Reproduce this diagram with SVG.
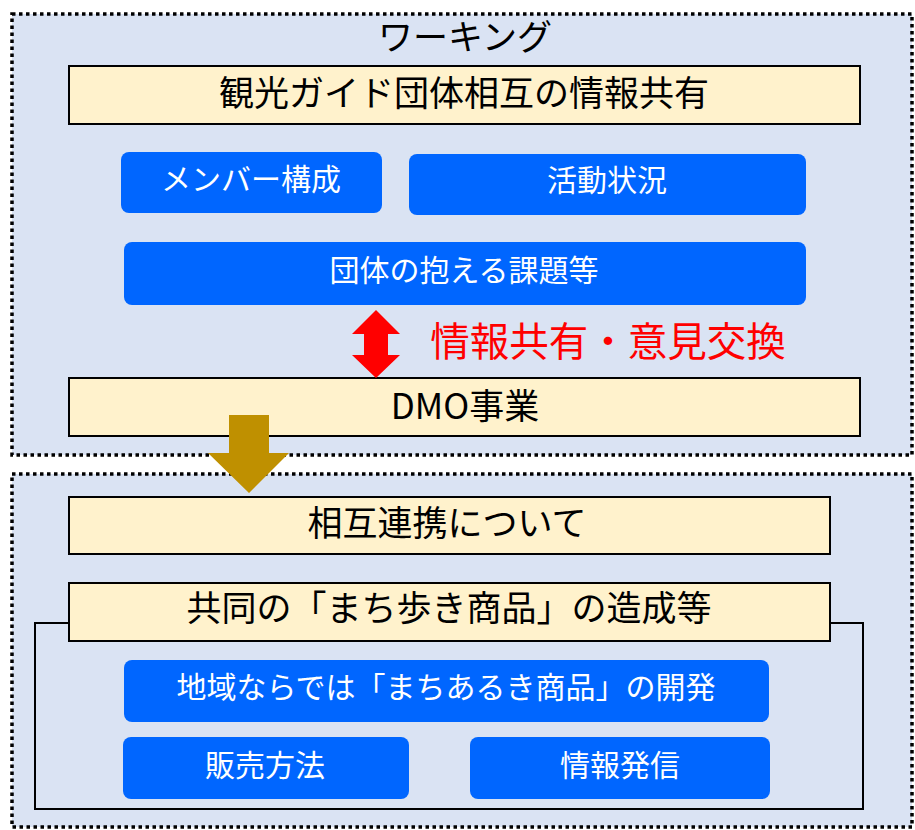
<svg xmlns="http://www.w3.org/2000/svg" width="915" height="830" viewBox="0 0 915 830">
<style>
.cont{fill:#DAE3F3;stroke:#000;stroke-width:3.5;stroke-dasharray:3.5 3.5}
.beige{fill:#FFF2CC;stroke:#000;stroke-width:2}
.blue{fill:#0066FF}
.t{font-family:"Noto Sans CJK JP","Noto Sans",sans-serif;text-anchor:middle;dominant-baseline:central}
.bk{fill:#000;font-size:35px}
.wh{fill:#fff;font-size:30px}
</style>
<rect width="915" height="830" fill="#fff"/>
<g id="working">
<rect class="cont" x="12" y="14" width="900" height="441"/>
<text class="t bk" x="465" y="34">ワーキング</text>
</g>
<g id="lower">
<rect class="cont" x="12" y="474" width="900" height="353"/>
</g>
<g id="share">
<rect class="beige" x="69" y="66" width="791" height="58"/>
<text class="t bk" x="464" y="90">観光ガイド団体相互の情報共有</text>
</g>
<g id="member">
<rect class="blue" x="121" y="152" width="261" height="61" rx="8"/>
<text class="t wh" x="251" y="177">メンバー構成</text>
</g>
<g id="activity">
<rect class="blue" x="409" y="154" width="397" height="61" rx="8"/>
<text class="t wh" x="607" y="178">活動状況</text>
</g>
<g id="issues">
<rect class="blue" x="124" y="242" width="682" height="63" rx="8"/>
<text class="t wh" x="464" y="268">団体の抱える課題等</text>
</g>
<g id="exchange-label">
<text class="t" x="608" y="338" style="fill:#FF0000;font-size:39.5px">情報共有・意見交換</text>
</g>
<g id="dmo">
<rect class="beige" x="69" y="378" width="791" height="58"/>
<text class="t bk" x="465" y="403">DMO事業</text>
</g>
<g id="mutual">
<rect class="beige" x="69" y="497" width="761" height="57"/>
<text class="t bk" x="447" y="520">相互連携について</text>
</g>
<g id="joint-frame">
<rect x="35" y="623" width="828" height="186" fill="none" stroke="#000" stroke-width="2"/>
</g>
<g id="joint">
<rect class="beige" x="69" y="583" width="761" height="58"/>
<text class="t bk" x="449" y="605">共同の「まち歩き商品」の造成等</text>
</g>
<g id="develop">
<rect class="blue" x="124" y="660" width="645" height="62" rx="8"/>
<text class="t wh" x="446" y="685">地域ならでは「まちあるき商品」の開発</text>
</g>
<g id="sales">
<rect class="blue" x="123" y="737" width="286" height="62" rx="8"/>
<text class="t wh" x="265" y="763">販売方法</text>
</g>
<g id="info">
<rect class="blue" x="470" y="737" width="300" height="62" rx="8"/>
<text class="t wh" x="620" y="763">情報発信</text>
</g>
<g id="connectors">
<polygon fill="#FF0000" points="376,310 400,334 388,334 388,355 400,355 376,378 352,355 364,355 364,334 352,334"/>
<polygon fill="#BF9000" points="229,415 269,415 269,453 289,453 249,493 208,453 229,453"/>
</g>
</svg>
